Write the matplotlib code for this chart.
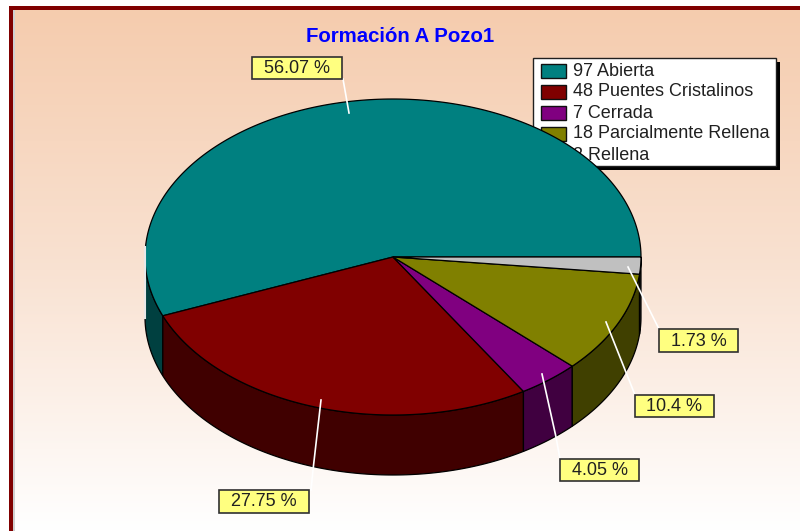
import numpy as np
import matplotlib
matplotlib.use('Agg')
import matplotlib.pyplot as plt
from matplotlib.patches import Rectangle
from matplotlib.colors import LinearSegmentedColormap

plt.rcParams['font.family'] = ['Liberation Sans', 'DejaVu Sans']

# data
values = [97, 48, 7, 18, 3]
names = ['Abierta', 'Puentes Cristalinos', 'Cerrada', 'Parcialmente Rellena', 'Rellena']
pct_labels = ['56.07 %', '27.75 %', '4.05 %', '10.4 %', '1.73 %']
top_colors = ['#008080', '#800000', '#800080', '#808000', '#c0c0c0']
side_colors = ['#004040', '#400000', '#400040', '#404000', '#303030']

# label box (x0, y0, w, h) and leader line per slice, in pixels
boxes = [(252, 57, 90, 22), (219, 490, 90, 23), (560, 459, 79, 22), (635, 395, 79, 22), (659, 329, 79, 23)]
leaders = [
    [(349, 113), (343, 79)],
    [(321, 400), (313, 470), (311, 490)],
    [(542, 374), (556, 437), (560, 459)],
    [(606, 322), (635, 395)],
    [(628, 267), (659, 329)],
]

cx, cy, rx, ry, depth = 393, 257, 248, 158, 60

fig = plt.figure(figsize=(8, 5.31), dpi=100)
ax = fig.add_axes([0, 0, 1, 1])
ax.set_xlim(0, 800)
ax.set_ylim(531, 0)
ax.axis('off')

# background gradient and frame
cmap = LinearSegmentedColormap.from_list('bg', ['#f5ccae', '#f9e2d2', '#ffffff'])
grad = np.linspace(0, 1, 256).reshape(-1, 1)
ax.imshow(grad, cmap=cmap, extent=[13, 800, 531, 10], aspect='auto', zorder=0)
ax.add_patch(Rectangle((9, 6), 791, 4, color='#800000', lw=0, zorder=1))
ax.add_patch(Rectangle((9, 6), 4, 525, color='#800000', lw=0, zorder=1))
ax.add_patch(Rectangle((13, 10), 2, 521, color='#d0d0d0', lw=0, zorder=1))

# title
ax.text(400, 36, 'Formación A Pozo1', color='#0000ff', fontsize=14.7, fontweight='bold',
        ha='center', va='center', zorder=2)

# legend, the pie is drawn over it
ax.add_patch(Rectangle((537, 62), 243, 108, color='black', lw=0, zorder=2))
ax.add_patch(Rectangle((533, 58), 243, 108, fc='white', ec='#202020', lw=1, zorder=3))
for i, (v, n, c) in enumerate(zip(values, names, top_colors)):
    y = 71 + i * 21
    ax.add_patch(Rectangle((541, y - 7), 25, 14, fc=c, ec='#101010', lw=1, zorder=4))
    ax.text(573, y, f'{v} {n}', fontsize=13, color='#202020', va='center', ha='left', zorder=4)

# pie
edges = np.cumsum([0] + values) / sum(values) * 2 * np.pi


def ell(t):
    return cx + rx * np.cos(t), cy - ry * np.sin(t)


# side wall, only the front half of the ellipse shows
for i in range(len(values)):
    a = max(edges[i], np.pi)
    b = edges[i + 1]
    if b <= a:
        continue
    t = np.linspace(a, b, 120)
    x, y = ell(t)
    xs = np.r_[x, x[::-1]]
    ys = np.r_[y, y[::-1] + depth]
    ax.fill(xs, ys, fc=side_colors[i], ec='black', lw=0.9, zorder=5)

# top faces
for i in range(len(values)):
    t = np.linspace(edges[i], edges[i + 1], 200)
    x, y = ell(t)
    ax.fill(np.r_[cx, x], np.r_[cy, y], fc=top_colors[i], ec='black', lw=0.9, zorder=6)

# leader lines and labels
for pts, box, lab in zip(leaders, boxes, pct_labels):
    xs, ys = zip(*pts)
    ax.plot(xs, ys, color='white', lw=1.2, zorder=7)
    x0, y0, w, h = box
    ax.add_patch(Rectangle((x0, y0), w, h, fc='#ffff80', ec='#303030', lw=1.2, zorder=8))
    ax.text(x0 + w / 2, y0 + h / 2 + 0.5, lab, fontsize=13, color='#202020',
            ha='center', va='center', zorder=9)

# stray leader on the left rim
ax.plot([145, 145], [247, 318], color='#e8e8e8', lw=1.5, zorder=7)

fig.savefig('out.png', dpi=100)
